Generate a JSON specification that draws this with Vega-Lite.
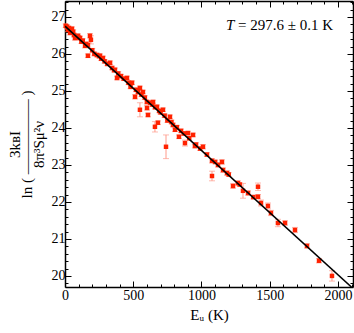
{
  "$schema": "https://vega.github.io/schema/vega-lite/v6.json",
  "width": 288,
  "height": 286,
  "autosize": "none",
  "padding": {"left": 65, "top": 1, "right": 1, "bottom": 46},
  "background": "white",
  "config": {"view": {"stroke": null}, "font": "Liberation Serif"},
  "datasets": {
    "pts": [
      {"x": 5, "y": 26.76, "e": 0.05}, {"x": 15, "y": 26.73, "e": 0.06}, {"x": 22, "y": 26.65, "e": 0.05},
      {"x": 28, "y": 26.7, "e": 0.05}, {"x": 37, "y": 26.57, "e": 0.06}, {"x": 45, "y": 26.58, "e": 0.05},
      {"x": 51, "y": 26.68, "e": 0.05}, {"x": 60, "y": 26.6, "e": 0.05}, {"x": 66, "y": 26.51, "e": 0.05},
      {"x": 73, "y": 26.43, "e": 0.06}, {"x": 85, "y": 26.47, "e": 0.05}, {"x": 95, "y": 26.49, "e": 0.05},
      {"x": 100, "y": 26.44, "e": 0.05}, {"x": 110, "y": 26.43, "e": 0.05}, {"x": 120, "y": 26.33, "e": 0.05},
      {"x": 130, "y": 26.36, "e": 0.05}, {"x": 147, "y": 26.22, "e": 0.06}, {"x": 155, "y": 26.27, "e": 0.05},
      {"x": 168, "y": 26.24, "e": 0.06}, {"x": 168, "y": 25.95, "e": 0.05}, {"x": 183, "y": 26.49, "e": 0.06},
      {"x": 190, "y": 26.38, "e": 0.11}, {"x": 200, "y": 26.1, "e": 0.05}, {"x": 215, "y": 26.0, "e": 0.05},
      {"x": 234, "y": 25.97, "e": 0.05}, {"x": 250, "y": 25.94, "e": 0.05}, {"x": 256, "y": 25.95, "e": 0.05},
      {"x": 265, "y": 25.87, "e": 0.05}, {"x": 278, "y": 25.89, "e": 0.05}, {"x": 290, "y": 25.8, "e": 0.05},
      {"x": 310, "y": 25.73, "e": 0.05}, {"x": 330, "y": 25.76, "e": 0.05}, {"x": 345, "y": 25.62, "e": 0.05},
      {"x": 360, "y": 25.56, "e": 0.05}, {"x": 366, "y": 25.57, "e": 0.05}, {"x": 381, "y": 25.35, "e": 0.05},
      {"x": 390, "y": 25.47, "e": 0.05}, {"x": 410, "y": 25.4, "e": 0.05}, {"x": 430, "y": 25.33, "e": 0.05},
      {"x": 454, "y": 25.35, "e": 0.05}, {"x": 465, "y": 25.22, "e": 0.05}, {"x": 480, "y": 25.11, "e": 0.05},
      {"x": 491, "y": 25.22, "e": 0.05}, {"x": 513, "y": 24.84, "e": 0.06}, {"x": 520, "y": 25.03, "e": 0.05},
      {"x": 535, "y": 24.97, "e": 0.05}, {"x": 549, "y": 25.08, "e": 0.05}, {"x": 549, "y": 24.49, "e": 0.19},
      {"x": 560, "y": 24.9, "e": 0.05}, {"x": 571, "y": 24.97, "e": 0.05}, {"x": 585, "y": 24.82, "e": 0.05},
      {"x": 600, "y": 24.7, "e": 0.05}, {"x": 601, "y": 24.54, "e": 0.06}, {"x": 608, "y": 24.35, "e": 0.05},
      {"x": 625, "y": 24.68, "e": 0.05}, {"x": 640, "y": 24.63, "e": 0.05}, {"x": 645, "y": 24.7, "e": 0.05},
      {"x": 659, "y": 24.03, "e": 0.14}, {"x": 660, "y": 24.56, "e": 0.05}, {"x": 674, "y": 24.57, "e": 0.05},
      {"x": 681, "y": 24.14, "e": 0.05}, {"x": 690, "y": 24.46, "e": 0.05}, {"x": 700, "y": 24.42, "e": 0.05},
      {"x": 718, "y": 24.49, "e": 0.05}, {"x": 730, "y": 24.33, "e": 0.05}, {"x": 740, "y": 23.49, "e": 0.32},
      {"x": 750, "y": 24.2, "e": 0.05}, {"x": 769, "y": 24.3, "e": 0.05}, {"x": 780, "y": 24.16, "e": 0.05},
      {"x": 791, "y": 24.08, "e": 0.05}, {"x": 806, "y": 23.95, "e": 0.05}, {"x": 820, "y": 24.02, "e": 0.05},
      {"x": 835, "y": 23.76, "e": 0.05}, {"x": 850, "y": 23.92, "e": 0.05}, {"x": 870, "y": 23.85, "e": 0.05},
      {"x": 879, "y": 23.59, "e": 0.08}, {"x": 901, "y": 23.86, "e": 0.05}, {"x": 910, "y": 23.72, "e": 0.05},
      {"x": 938, "y": 23.81, "e": 0.05}, {"x": 952, "y": 23.51, "e": 0.05}, {"x": 960, "y": 23.55, "e": 0.05},
      {"x": 990, "y": 23.44, "e": 0.05}, {"x": 1011, "y": 23.49, "e": 0.06}, {"x": 1040, "y": 23.28, "e": 0.05},
      {"x": 1077, "y": 23.11, "e": 0.06}, {"x": 1077, "y": 22.7, "e": 0.13}, {"x": 1100, "y": 23.08, "e": 0.05},
      {"x": 1121, "y": 23.0, "e": 0.06}, {"x": 1150, "y": 23.08, "e": 0.06}, {"x": 1158, "y": 22.86, "e": 0.06},
      {"x": 1187, "y": 22.78, "e": 0.06}, {"x": 1200, "y": 22.74, "e": 0.05}, {"x": 1231, "y": 22.43, "e": 0.06},
      {"x": 1267, "y": 22.51, "e": 0.06}, {"x": 1280, "y": 22.47, "e": 0.05}, {"x": 1304, "y": 22.3, "e": 0.2},
      {"x": 1341, "y": 22.24, "e": 0.06}, {"x": 1380, "y": 22.13, "e": 0.05}, {"x": 1414, "y": 22.41, "e": 0.1},
      {"x": 1414, "y": 22.14, "e": 0.06}, {"x": 1436, "y": 21.97, "e": 0.08}, {"x": 1487, "y": 21.89, "e": 0.08},
      {"x": 1509, "y": 21.7, "e": 0.07}, {"x": 1560, "y": 21.43, "e": 0.1}, {"x": 1612, "y": 21.43, "e": 0.06},
      {"x": 1685, "y": 21.24, "e": 0.07}, {"x": 1773, "y": 20.81, "e": 0.06}, {"x": 1861, "y": 20.41, "e": 0.06},
      {"x": 1956, "y": 20.0, "e": 0.14}
    ],
    "fit": [{"x": 0, "y": 26.75}, {"x": 2110, "y": 19.66}],
    "one": [{}]
  },
  "layer": [
    {
      "data": {"name": "pts"},
      "mark": {"type": "errorbar", "ticks": {"size": 6, "color": "#ff9a8a"}, "color": "#ff9a8a", "thickness": 1},
      "encoding": {
        "x": {
          "field": "x", "type": "quantitative",
          "scale": {"domain": [0, 2110], "nice": false, "zero": false},
          "axis": {
            "orient": "bottom",
            "values": [0, 100, 200, 300, 400, 500, 600, 700, 800, 900, 1000, 1100, 1200, 1300, 1400, 1500, 1600, 1700, 1800, 1900, 2000, 2100],
            "labelExpr": "datum.value % 500 === 0 ? datum.label : ''",
            "format": "d",
            "tickSize": {"condition": {"test": "datum.value % 500 === 0", "value": -6}, "value": -3},
            "tickColor": "black", "tickWidth": 1,
            "domainColor": "black", "domainWidth": 1.5,
            "labelFont": "Liberation Serif", "labelFontSize": 14, "labelColor": "black", "labelPadding": 7,
            "labelFlush": false, "labelOverlap": false,
            "grid": false,
            "title": "Eᵤ (K)", "titleFont": "Liberation Serif", "titleFontSize": 15, "titleFontWeight": "normal", "titleColor": "black", "titlePadding": 2
          }
        },
        "y": {
          "field": "y", "type": "quantitative",
          "scale": {"domain": [19.7, 27.43], "nice": false, "zero": false},
          "axis": {
            "orient": "left",
            "values": [19.8, 20, 20.2, 20.4, 20.6, 20.8, 21, 21.2, 21.4, 21.6, 21.8, 22, 22.2, 22.4, 22.6, 22.8, 23, 23.2, 23.4, 23.6, 23.8, 24, 24.2, 24.4, 24.6, 24.8, 25, 25.2, 25.4, 25.6, 25.8, 26, 26.2, 26.4, 26.6, 26.8, 27, 27.2, 27.4],
            "labelExpr": "abs(datum.value - round(datum.value)) < 0.01 ? format(datum.value, 'd') : ''",
            "tickSize": {"condition": {"test": "abs(datum.value - round(datum.value)) < 0.01", "value": -6}, "value": -3},
            "tickColor": "black", "tickWidth": 1,
            "domainColor": "black", "domainWidth": 1.5,
            "labelFont": "Liberation Serif", "labelFontSize": 14, "labelColor": "black", "labelPadding": 6,
            "labelFlush": false, "labelOverlap": false,
            "grid": false,
            "title": ["\u2003 3k\u0299I", "ln ( \u2014\u2014\u2014\u2014\u2014 )", "\u2003 8π³Sμ²ν"],
            "titleFont": "Liberation Serif", "titleFontSize": 15, "titleFontWeight": "normal", "titleColor": "black",
            "titleLineHeight": 12, "titlePadding": 5
          }
        },
        "yError": {"field": "e"}
      }
    },
    {
      "data": {"name": "pts"},
      "mark": {"type": "square", "size": 20, "color": "#ff2200", "opacity": 1, "filled": true},
      "encoding": {
        "x": {"field": "x", "type": "quantitative", "axis": null},
        "y": {"field": "y", "type": "quantitative", "axis": null}
      }
    },
    {
      "data": {"name": "fit"},
      "mark": {"type": "line", "color": "black", "strokeWidth": 1.5, "clip": true},
      "encoding": {
        "x": {
          "field": "x", "type": "quantitative",
          "axis": {
            "orient": "top",
            "values": [0, 100, 200, 300, 400, 500, 600, 700, 800, 900, 1000, 1100, 1200, 1300, 1400, 1500, 1600, 1700, 1800, 1900, 2000, 2100],
            "labels": false, "title": null, "grid": false,
            "tickSize": {"condition": {"test": "datum.value % 500 === 0", "value": -6}, "value": -3},
            "tickColor": "black", "domainColor": "black", "domainWidth": 1.5
          }
        },
        "y": {
          "field": "y", "type": "quantitative",
          "axis": {
            "orient": "right",
            "values": [19.8, 20, 20.2, 20.4, 20.6, 20.8, 21, 21.2, 21.4, 21.6, 21.8, 22, 22.2, 22.4, 22.6, 22.8, 23, 23.2, 23.4, 23.6, 23.8, 24, 24.2, 24.4, 24.6, 24.8, 25, 25.2, 25.4, 25.6, 25.8, 26, 26.2, 26.4, 26.6, 26.8, 27, 27.2, 27.4],
            "labels": false, "title": null, "grid": false,
            "tickSize": {"condition": {"test": "abs(datum.value - round(datum.value)) < 0.01", "value": -6}, "value": -3},
            "tickColor": "black", "domainColor": "black", "domainWidth": 1.5
          }
        }
      }
    },
    {
      "data": {"name": "one"},
      "mark": {"type": "text", "text": "T", "font": "Liberation Serif", "fontSize": 15, "fontStyle": "italic", "align": "left", "baseline": "alphabetic", "color": "black"},
      "encoding": {
        "x": {"datum": 1180, "type": "quantitative", "axis": null},
        "y": {"datum": 26.65, "type": "quantitative", "axis": null}
      }
    },
    {
      "data": {"name": "one"},
      "mark": {"type": "text", "text": "= 297.6 ± 0.1 K", "font": "Liberation Serif", "fontSize": 15, "align": "left", "baseline": "alphabetic", "color": "black", "dx": 12},
      "encoding": {
        "x": {"datum": 1180, "type": "quantitative", "axis": null},
        "y": {"datum": 26.65, "type": "quantitative", "axis": null}
      }
    }
  ],
  "resolve": {"axis": {"x": "independent", "y": "independent"}}
}
